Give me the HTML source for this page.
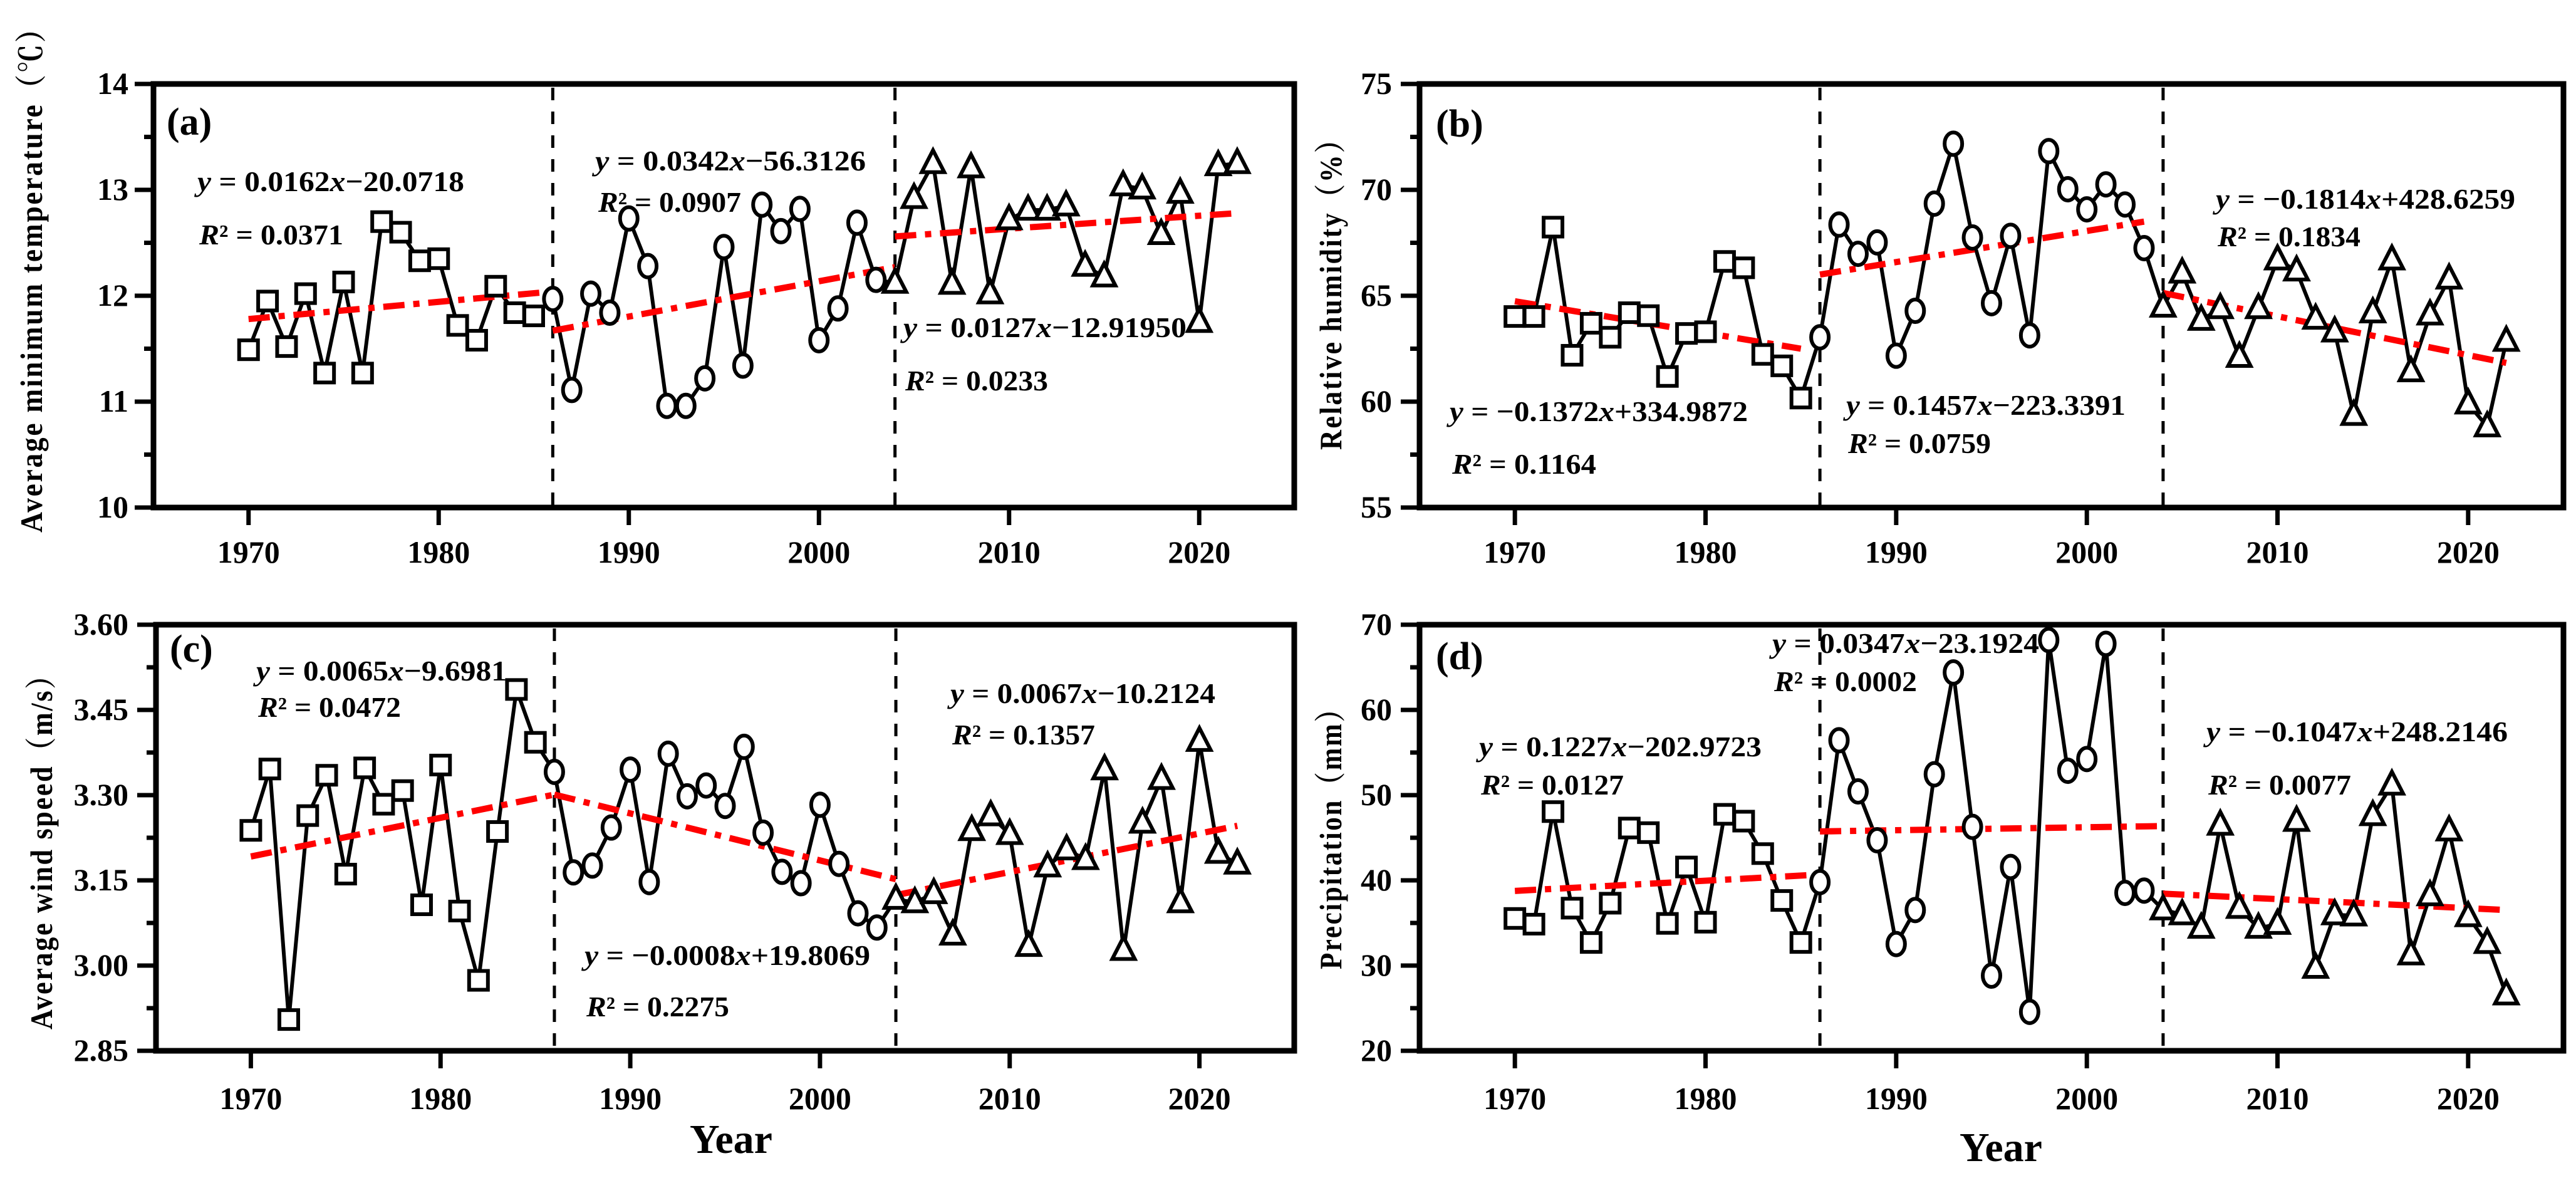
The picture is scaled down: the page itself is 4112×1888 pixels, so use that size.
<!DOCTYPE html>
<html><head><meta charset="utf-8">
<style>
html,body{margin:0;padding:0;background:#fff;}
svg{display:block;}
text{font-family:"Liberation Serif","Noto Serif CJK SC",serif;font-weight:bold;fill:#000;}
</style></head>
<body>
<svg id="chart" width="4112" height="1888" viewBox="0 0 4112 1888" xmlns="http://www.w3.org/2000/svg">
<rect x="0" y="0" width="4112" height="1888" fill="#fff"/>
</svg>
<script>
const years = [];
for (let y = 1970; y <= 2022; y++) years.push(y);

const tminValues = [11.49,11.95,11.52,12.02,11.27,12.13,11.27,12.70,12.60,12.33,12.35,11.72,11.58,12.09,11.84,11.81,11.97,11.11,12.02,11.84,12.73,12.28,10.96,10.96,11.22,12.46,11.34,12.86,12.61,12.82,11.58,11.88,12.69,12.15,12.12,12.92,13.25,12.11,13.21,12.02,12.72,12.81,12.81,12.85,12.28,12.18,13.04,13.01,12.58,12.97,11.75,13.23,13.25];
const rhValues = [64.02,64.02,68.24,62.19,63.70,63.04,64.20,64.06,61.19,63.22,63.30,66.62,66.32,62.23,61.69,60.17,63.04,68.36,66.98,67.52,62.17,64.29,69.35,72.18,67.75,64.65,67.83,63.13,71.83,70.03,69.08,70.26,69.31,67.25,64.47,66.08,63.85,64.40,62.10,64.40,66.70,66.18,63.90,63.30,59.36,64.20,66.70,61.42,64.10,65.80,59.90,58.82,62.86];
const windValues = [3.238,3.346,2.905,3.264,3.335,3.161,3.348,3.284,3.308,3.107,3.353,3.096,2.974,3.236,3.486,3.393,3.341,3.164,3.176,3.243,3.345,3.147,3.373,3.298,3.317,3.281,3.385,3.234,3.165,3.145,3.283,3.179,3.092,3.067,3.117,3.111,3.127,3.054,3.238,3.264,3.231,3.034,3.174,3.204,3.187,3.345,3.027,3.251,3.328,3.111,3.395,3.198,3.179];
const precipValues = [35.53,34.86,48.07,36.74,32.71,37.32,46.14,45.60,34.95,41.57,35.09,47.75,46.95,43.14,37.64,32.71,39.79,56.44,50.44,44.71,32.53,36.52,52.45,64.40,46.28,28.82,41.57,24.57,68.20,52.86,54.24,67.76,38.53,38.80,36.56,35.98,34.40,46.50,36.74,34.40,34.86,46.95,29.71,35.98,35.85,47.62,51.20,31.28,38.22,45.83,35.76,32.62,26.58];

const breakYears = [1986, 2004];
const tminTrends = [[1970,11.78,1986,12.04],[1986,11.67,2004,12.27],[2004,12.56,2022,12.78]];
const rhTrends = [[1970,64.74,1985,62.50],[1986,66.00,2003,68.50],[2004,65.13,2022,61.83]];
const windTrends = [[1970,3.192,1986,3.301],[1986,3.301,2004,3.152],[2004,3.124,2022,3.246]];
const precipTrends = [[1970,38.76,1986,40.68],[1986,45.74,2004,46.37],[2004,38.44,2022,36.52]];

const xTicks = [1970,1980,1990,2000,2010,2020];
const tminTicks = ["10","11","12","13","14"];
const rhTicks = ["55","60","65","70","75"];
const windTicks = ["2.85","3.00","3.15","3.30","3.45","3.60"];
const precipTicks = ["20","30","40","50","60","70"];

const NS = "http://www.w3.org/2000/svg";
const svg = document.getElementById("chart");
function mk(tag, attrs, parent) {
  const e = document.createElementNS(NS, tag);
  for (const k in attrs) e.setAttribute(k, attrs[k]);
  (parent || svg).appendChild(e);
  return e;
}

const panels = [
  {id:"a", L:245, R:2066, T:134, B:810, ymin:10, ymax:14, minor:0.5, ticks:tminTicks, vals:tminValues, trends:tminTrends,
   title:"Average minimum temperature（℃）", titleX:50, titleY:435, titleLen:830, tickRight:205, xlabBase:898,
   lab:[266,215],
   eqs:[["y","= 0.0162","x","−20.0718",315,305,426],["R","² = 0.0371","","",318,390,230],
        ["y","= 0.0342","x","−56.3126",950,272,432],["R","² = 0.0907","","",955,338,228],
        ["y","= 0.0127","x","−12.91950",1442,538,452],["R","² = 0.0233","","",1445,623,228]]},
  {id:"b", L:2266, R:4092, T:134, B:810, ymin:55, ymax:75, minor:2.5, ticks:rhTicks, vals:rhValues, trends:rhTrends,
   title:"Relative humidity（%）", titleX:2124, titleY:458, titleLen:520, tickRight:2222, xlabBase:898,
   lab:[2292,218],
   eqs:[["y","= −0.1372","x","+334.9872",2314,672,476],["R","² = 0.1164","","",2318,756,230],
        ["y","= 0.1457","x","−223.3391",2947,662,446],["R","² = 0.0759","","",2950,723,228],
        ["y","= −0.1814","x","+428.6259",3537,333,478],["R","² = 0.1834","","",3540,393,228]]},
  {id:"c", L:249, R:2066, T:997, B:1677, ymin:2.85, ymax:3.60, minor:0.075, ticks:windTicks, vals:windValues, trends:windTrends,
   title:"Average wind speed（m/s）", titleX:66, titleY:1348, titleLen:590, tickRight:205, xlabBase:1770,
   lab:[271,1056],
   eqs:[["y","= 0.0065","x","−9.6981",409,1086,400],["R","² = 0.0472","","",412,1144,228],
        ["y","= −0.0008","x","+19.8069",933,1540,456],["R","² = 0.2275","","",936,1622,228],
        ["y","= 0.0067","x","−10.2124",1517,1122,423],["R","² = 0.1357","","",1520,1188,228]]},
  {id:"d", L:2266, R:4092, T:997, B:1677, ymin:20, ymax:70, minor:5, ticks:precipTicks, vals:precipValues, trends:precipTrends,
   title:"Precipitation（mm）", titleX:2124, titleY:1327, titleLen:440, tickRight:2222, xlabBase:1770,
   lab:[2292,1068],
   eqs:[["y","= 0.1227","x","−202.9723",2361,1207,451],["R","² = 0.0127","","",2364,1268,228],
        ["y","= 0.0347","x","−23.1924",2829,1042,426],["R","² = 0.0002","","",2832,1103,228],
        ["y","= −0.1047","x","+248.2146",3522,1183,481],["R","² = 0.0077","","",3525,1268,228]]}
];

panels.forEach(p => {
  const g = mk("g", {});
  
  
  const xs = yr => p.L + (yr - 1965) / 60 * (p.R - p.L);
  const ys = v => p.B - (v - p.ymin) / (p.ymax - p.ymin) * (p.B - p.T);

  const fr = mk("rect", {x:p.L, y:p.T, width:p.R-p.L, height:p.B-p.T, fill:"none", stroke:"#000", "stroke-width":9}, g);
  
  

  const nT = p.ticks.length;
  for (let i = 0; i < nT; i++) {
    const v = p.ymin + i * (p.ymax - p.ymin) / (nT - 1);
    const y = ys(v);
    const t = mk("line", {x1:p.L-30, x2:p.L, y1:y, y2:y, stroke:"#000", "stroke-width":7}, g);
    
    
    const lb = mk("text", {x:p.tickRight, y:y+16, "font-size":50, "text-anchor":"end"}, g);
    
    
    lb.textContent = p.ticks[i];
    if (i < nT - 1) {
      const ym = ys(v + p.minor);
      const m = mk("line", {x1:p.L-15, x2:p.L, y1:ym, y2:ym, stroke:"#000", "stroke-width":7}, g);
      
      
    }
  }
  xTicks.forEach(yr => {
    const x = xs(yr);
    const t = mk("line", {x1:x, x2:x, y1:p.B, y2:p.B+28, stroke:"#000", "stroke-width":7}, g);
    
    
    const lb = mk("text", {x:x, y:p.xlabBase, "font-size":50, "text-anchor":"middle"}, g);
    
    
    lb.textContent = yr;
  });

  const tt = mk("text", {x:0, y:0, "font-size":50, "text-anchor":"middle", "letter-spacing":"3",
    transform:`translate(${p.titleX+17},${p.titleY}) rotate(-90)`, textLength:p.titleLen, lengthAdjust:"spacingAndGlyphs"}, g);
  
  
  tt.textContent = p.title;

  breakYears.forEach(by => {
    const x = xs(by);
    const l = mk("line", {x1:x, x2:x, y1:p.T+6, y2:p.B, stroke:"#000", "stroke-width":5, "stroke-dasharray":"20 18"}, g);
    
    
  });

  const pts = p.vals.map((v, i) => xs(years[i]).toFixed(1) + "," + ys(v).toFixed(1)).join(" ");
  const pl = mk("polyline", {points:pts, fill:"none", stroke:"#000", "stroke-width":6, "stroke-linejoin":"miter"}, g);
  
  

  p.trends.forEach(tr => {
    const l = mk("line", {x1:xs(tr[0]), y1:ys(tr[1]), x2:xs(tr[2]), y2:ys(tr[3]), stroke:"#ff0000", "stroke-width":10, "stroke-dasharray":"34 14 10 14"}, g);
    
    
  });

  p.vals.forEach((v, i) => {
    const yr = years[i], x = xs(yr), y = ys(v);
    let m;
    if (yr < breakYears[0]) {
      m = mk("rect", {x:x-15, y:y-15, width:30, height:30, fill:"#fff", stroke:"#000", "stroke-width":6}, g);
      
    } else if (yr < breakYears[1]) {
      m = mk("ellipse", {cx:x, cy:y, rx:14, ry:18, fill:"#fff", stroke:"#000", "stroke-width":6}, g);
      
    } else {
      m = mk("polygon", {points:`${x},${y-21} ${x+18},${y+14} ${x-18},${y+14}`, fill:"#fff", stroke:"#000", "stroke-width":6, "stroke-linejoin":"miter"}, g);
      
    }
    
  });

  const pl2 = mk("text", {x:p.lab[0], y:p.lab[1], "font-size":62}, g);
  
  
  pl2.textContent = "(" + p.id + ")";

  p.eqs.forEach(e => {
    const t = mk("text", {x:e[4], y:e[5], "font-size":46, textLength:e[6], lengthAdjust:"spacingAndGlyphs"}, g);
    
    
    const s1 = mk("tspan", {"font-style":"italic"}, t); s1.textContent = e[0];
    const s2 = mk("tspan", {}, t); s2.textContent = (e[0] === "y" ? " " : "") + e[1];
    if (e[2]) {
      const s3 = mk("tspan", {"font-style":"italic"}, t); s3.textContent = e[2];
      const s4 = mk("tspan", {}, t); s4.textContent = e[3];
    }
  });
});

[[1167,1840],[3194,1853]].forEach(pos => {
  const t = mk("text", {x:pos[0], y:pos[1], "font-size":66, "text-anchor":"middle"});
  
  
  t.textContent = "Year";
});
</script>
</body></html>
